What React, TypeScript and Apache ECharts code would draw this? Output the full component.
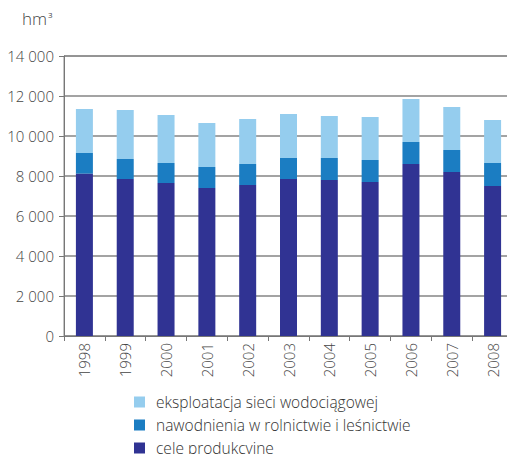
import React, { useEffect, useRef } from "react";
import * as echarts from "echarts";

const years = ["1998", "1999", "2000", "2001", "2002", "2003", "2004", "2005", "2006", "2007", "2008"];
const production = [8120, 7850, 7650, 7400, 7550, 7850, 7800, 7700, 8600, 8200, 7500];
const irrigation = [1030, 1000, 1000, 1050, 1050, 1050, 1100, 1100, 1100, 1100, 1150];
const network = [2200, 2450, 2400, 2200, 2250, 2200, 2100, 2150, 2150, 2150, 2150];
const yTicks = { min: 0, max: 14000, interval: 2000 };

const names = ["cele produkcyjne", "nawodnienia w rolnictwie i leśnictwie", "eksploatacja sieci wodociągowej"];
const colors = ["#303393", "#1b7dc2", "#95cdee"];

export default function App() {
  const ref = useRef<HTMLDivElement>(null);
  useEffect(() => {
    if (!ref.current) return;
    const chart = echarts.init(ref.current, null, { renderer: "svg" });
    const font = "'Open Sans', sans-serif";
    const seriesData = [production, irrigation, network];
    chart.setOption({
      animation: false,
      textStyle: { fontFamily: font },
      grid: { left: 64, right: 2, top: 56, bottom: 126, show: true, borderColor: "#8a8a8a", borderWidth: 1 },
      graphic: [
        {
          type: "text",
          left: 22,
          top: 10,
          style: {
            text: "{a|hm}{b|3}",
            rich: {
              a: { fontSize: 17, fontFamily: font, fill: "#444", fontWeight: 300 },
              b: { fontSize: 8, fontFamily: font, fill: "#444", verticalAlign: "top", padding: [0, 0, 9, 1] },
            },
          },
        },
      ],
      legend: {
        orient: "vertical",
        left: 134,
        top: 394,
        width: 380,
        height: 62,
        padding: 0,
        itemWidth: 11,
        itemHeight: 11,
        itemGap: 7,
        icon: "rect",
        data: [names[2], names[1], names[0]],
        textStyle: { fontSize: 15.5, lineHeight: 15, color: "#333", fontFamily: font, fontWeight: 300, padding: [0, 0, 0, 6] },
      },
      xAxis: {
        type: "category",
        data: years,
        axisLine: { lineStyle: { color: "#777", width: 1 } },
        axisTick: { show: true, length: 5, lineStyle: { color: "#777" } },
        axisLabel: { rotate: 90, fontSize: 15, color: "#444", margin: 7, fontFamily: font, fontWeight: 300 },
      },
      yAxis: {
        type: "value",
        min: yTicks.min,
        max: yTicks.max,
        interval: yTicks.interval,
        axisLine: { show: true, lineStyle: { color: "#777", width: 1 } },
        axisTick: { show: true, length: 5, lineStyle: { color: "#777" } },
        axisLabel: {
          fontSize: 15,
          color: "#444",
          margin: 10,
          fontFamily: font,
          fontWeight: 300,
          formatter: (v: number) => {
            const s = String(v);
            return s.length > 3 ? s.slice(0, s.length - 3) + " " + s.slice(-3) : s;
          },
        },
        splitLine: { show: true, lineStyle: { color: "#858585", width: 1.6 } },
      },
      series: names.map((n, i) => ({
        name: n,
        type: "bar",
        stack: "total",
        barWidth: 17,
        data: seriesData[i],
        itemStyle: { color: colors[i] },
      })),
    });
    return () => chart.dispose();
  }, []);
  return <div ref={ref} style={{ width: 515, height: 462, margin: -8 }} />;
}
